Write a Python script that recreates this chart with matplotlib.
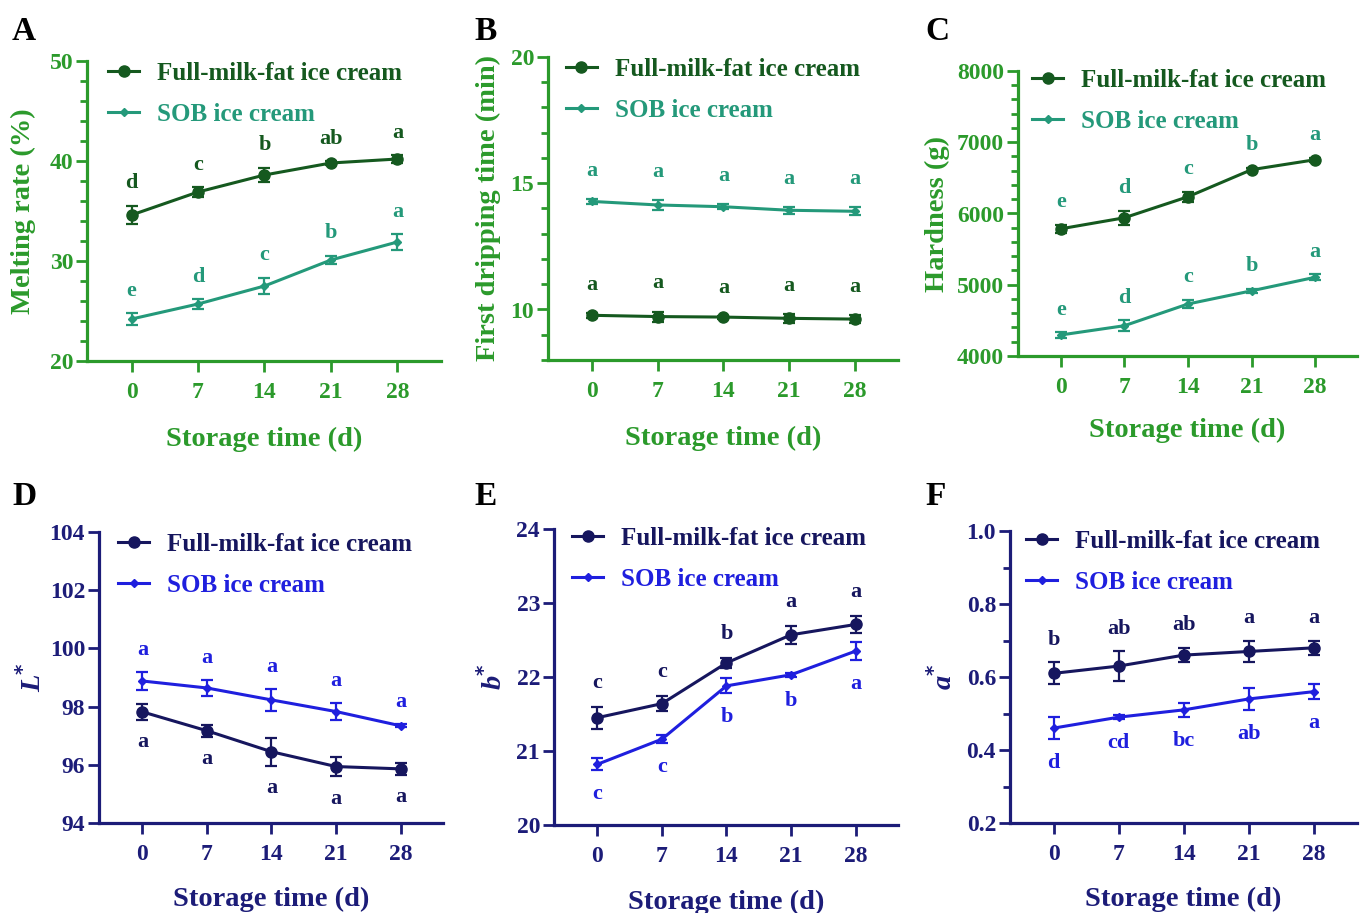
import matplotlib
matplotlib.use('Agg')

import matplotlib.pyplot as plt
from matplotlib.lines import Line2D
from matplotlib.ticker import MultipleLocator

plt.rcParams['font.family'] = ['Liberation Serif', 'DejaVu Serif']
plt.rcParams['font.weight'] = 'bold'
plt.rcParams['mathtext.fontset'] = 'custom'
plt.rcParams['mathtext.bfit'] = 'Liberation Serif:italic:bold'
plt.rcParams['mathtext.bf'] = 'Liberation Serif:bold'

days = [0, 7, 14, 21, 28]
full_label = 'Full-milk-fat ice cream'
sob_label = 'SOB ice cream'

# A: melting rate (%)
melt_full = [34.6, 36.9, 38.6, 39.8, 40.2]
melt_full_err = [0.9, 0.5, 0.7, 0.2, 0.4]
melt_sob = [24.2, 25.7, 27.5, 30.1, 31.9]
melt_sob_err = [0.6, 0.5, 0.8, 0.4, 0.8]
melt_full_let = ['d', 'c', 'b', 'ab', 'a']
melt_sob_let = ['e', 'd', 'c', 'b', 'a']

# B: first dripping time (min)
drip_full = [9.77, 9.72, 9.70, 9.65, 9.62]
drip_full_err = [0.10, 0.20, 0.06, 0.18, 0.15]
drip_sob = [14.28, 14.14, 14.07, 13.93, 13.89]
drip_sob_err = [0.10, 0.20, 0.10, 0.13, 0.16]
drip_full_let = ['a', 'a', 'a', 'a', 'a']
drip_sob_let = ['a', 'a', 'a', 'a', 'a']

# C: hardness (g)
hard_full = [5785, 5940, 6235, 6615, 6755]
hard_full_err = [60, 100, 70, 30, 30]
hard_sob = [4295, 4425, 4730, 4915, 5105]
hard_sob_err = [40, 80, 60, 30, 40]
hard_full_let = ['e', 'd', 'c', 'b', 'a']
hard_sob_let = ['e', 'd', 'c', 'b', 'a']

# D: L*
l_full = [97.82, 97.17, 96.45, 95.94, 95.86]
l_full_err = [0.27, 0.20, 0.48, 0.34, 0.20]
l_sob = [98.88, 98.64, 98.23, 97.83, 97.34]
l_sob_err = [0.30, 0.26, 0.37, 0.28, 0.05]
l_full_let = ['a', 'a', 'a', 'a', 'a']
l_sob_let = ['a', 'a', 'a', 'a', 'a']

# E: b*
b_full = [21.45, 21.64, 22.19, 22.57, 22.71]
b_full_err = [0.15, 0.10, 0.07, 0.12, 0.11]
b_sob = [20.82, 21.16, 21.88, 22.03, 22.35]
b_sob_err = [0.08, 0.05, 0.10, 0.03, 0.12]
b_full_let = ['c', 'c', 'b', 'a', 'a']
b_sob_let = ['c', 'c', 'b', 'b', 'a']

# F: a*
a_full = [0.61, 0.63, 0.66, 0.67, 0.68]
a_full_err = [0.03, 0.04, 0.02, 0.03, 0.02]
a_sob = [0.46, 0.49, 0.51, 0.54, 0.56]
a_sob_err = [0.03, 0.005, 0.02, 0.03, 0.02]
a_full_let = ['b', 'ab', 'ab', 'a', 'a']
a_sob_let = ['d', 'cd', 'bc', 'ab', 'a']

GREEN_AX = '#2b9a2b'
GREEN_FULL = '#15591f'
GREEN_SOB = '#24997a'
NAVY_AX = '#1c1c78'
NAVY_FULL = '#16165e'
BLUE_SOB = '#1f1fde'

W, H = 1365, 913
fig = plt.figure(figsize=(W / 100, H / 100), dpi=100)


def make_ax(left, right, top, bottom):
    return fig.add_axes([left / W, (H - bottom) / H, (right - left) / W, (bottom - top) / H])


def style(ax, axc, ylim, major, minor, ylabel, ylab_x):
    ax.set_xlim(-4.7, 32.6)
    ax.set_ylim(*ylim)
    ax.set_xticks(days)
    ax.yaxis.set_major_locator(MultipleLocator(major))
    if minor:
        ax.yaxis.set_minor_locator(MultipleLocator(minor))
    for s in ['top', 'right']:
        ax.spines[s].set_visible(False)
    for s in ['left', 'bottom']:
        ax.spines[s].set_color(axc)
        ax.spines[s].set_linewidth(2.3)
    ax.tick_params(which='major', length=8, width=2, colors=axc, labelsize=17, pad=2)
    ax.tick_params(which='minor', length=5, width=2, colors=axc)
    ax.tick_params(axis='x', pad=7)
    for t in ax.get_xticklabels() + ax.get_yticklabels():
        t.set_fontweight('bold')
    ax.set_xlabel('Storage time (d)', fontsize=20.5, fontweight='bold', color=axc)
    ax.xaxis.set_label_coords(0.5, -0.218)
    ax.set_ylabel(ylabel, fontsize=20.5, fontweight='bold', color=axc)
    ax.yaxis.set_label_coords(ylab_x, 0.5)


def series(ax, y, err, color, marker, ms):
    ax.errorbar(days, y, yerr=err, color=color, marker=marker, ms=ms, lw=2.2,
                elinewidth=1.6, capsize=4, capthick=1.6)


def letters(ax, y, err, labs, color, above=True, off=9):
    for x, v, e, t in zip(days, y, err, labs):
        if above:
            ax.annotate(t, (x, v + e), xytext=(0, off), textcoords='offset points',
                        ha='center', va='bottom', fontsize=16, fontweight='bold', color=color)
        else:
            ax.annotate(t, (x, v - e), xytext=(0, -off), textcoords='offset points',
                        ha='center', va='top', fontsize=16, fontweight='bold', color=color)


def legend(ax, c_full, c_sob, x, y):
    handles = [Line2D([], [], color=c_full, lw=2.2, marker='o', ms=8),
               Line2D([], [], color=c_sob, lw=2.2, marker='D', ms=4)]
    ax.legend(handles, [full_label, sob_label], loc='upper left', bbox_to_anchor=(x, y),
              frameon=False, borderaxespad=0, borderpad=0, handlelength=1.25,
              handletextpad=0.72, labelspacing=0.72, labelcolor='linecolor',
              prop={'weight': 'bold', 'size': 18})


def panel_letter(x, y, t):
    fig.text(x / W, 1 - y / H, t, fontsize=24, fontweight='bold', color='black', va='baseline')


# A
ax = make_ax(87, 441, 61, 361)
series(ax, melt_full, melt_full_err, GREEN_FULL, 'o', 8)
series(ax, melt_sob, melt_sob_err, GREEN_SOB, 'D', 4)
letters(ax, melt_full, melt_full_err, melt_full_let, GREEN_FULL)
letters(ax, melt_sob, melt_sob_err, melt_sob_let, GREEN_SOB)
style(ax, GREEN_AX, (20, 50), 10, 2, 'Melting rate (%)', -0.145)
legend(ax, GREEN_FULL, GREEN_SOB, 0.059, 0.997)

# B
ax = make_ax(548, 898, 57, 360)
series(ax, drip_full, drip_full_err, GREEN_FULL, 'o', 8)
series(ax, drip_sob, drip_sob_err, GREEN_SOB, 'D', 4)
letters(ax, drip_full, drip_full_err, drip_full_let, GREEN_FULL, off=13)
letters(ax, drip_sob, drip_sob_err, drip_sob_let, GREEN_SOB, off=13)
style(ax, GREEN_AX, (8, 20), 5, 1, 'First dripping time (min)', -0.134)
ax.set_yticks([10, 15, 20])
legend(ax, GREEN_FULL, GREEN_SOB, 0.051, 0.997)

# C
ax = make_ax(1018, 1357, 71, 356)
series(ax, hard_full, hard_full_err, GREEN_FULL, 'o', 8)
series(ax, hard_sob, hard_sob_err, GREEN_SOB, 'D', 4)
letters(ax, hard_full, hard_full_err, hard_full_let, GREEN_SOB)
letters(ax, hard_sob, hard_sob_err, hard_sob_let, GREEN_SOB)
style(ax, GREEN_AX, (4000, 8000), 1000, 200, 'Hardness (g)', -0.2)
legend(ax, GREEN_FULL, GREEN_SOB, 0.041, 1.008)

# D
ax = make_ax(99, 443, 532, 823)
series(ax, l_full, l_full_err, NAVY_FULL, 'o', 8)
series(ax, l_sob, l_sob_err, BLUE_SOB, 'D', 4)
letters(ax, l_full, l_full_err, l_full_let, NAVY_FULL, above=False, off=9)
letters(ax, l_sob, l_sob_err, l_sob_let, BLUE_SOB)
style(ax, NAVY_AX, (94, 104), 2, None, r'$\mathbfit{L}^{*}$', -0.15)
legend(ax, NAVY_FULL, BLUE_SOB, 0.055, 0.997)

# E
ax = make_ax(554, 898, 529, 825)
series(ax, b_full, b_full_err, NAVY_FULL, 'o', 8)
series(ax, b_sob, b_sob_err, BLUE_SOB, 'D', 4)
letters(ax, b_full, b_full_err, b_full_let, NAVY_FULL, off=10)
letters(ax, b_sob, b_sob_err, b_sob_let, BLUE_SOB, above=False, off=10)
style(ax, NAVY_AX, (20, 24), 1, None, r'$\mathbfit{b}^{*}$', -0.135)
legend(ax, NAVY_FULL, BLUE_SOB, 0.052, 1.007)

# F
ax = make_ax(1010, 1357, 531, 823)
series(ax, a_full, a_full_err, NAVY_FULL, 'o', 8)
series(ax, a_sob, a_sob_err, BLUE_SOB, 'D', 4)
letters(ax, a_full, a_full_err, a_full_let, NAVY_FULL)
letters(ax, a_sob, a_sob_err, a_sob_let, BLUE_SOB, above=False, off=10)
style(ax, NAVY_AX, (0.2, 1.0), 0.2, 0.1, r'$\mathbfit{a}^{*}$', -0.15)
legend(ax, NAVY_FULL, BLUE_SOB, 0.046, 1.004)

for t, x, y in [('A', 12, 40), ('B', 474, 40), ('C', 925, 40),
                ('D', 12, 505), ('E', 474, 505), ('F', 925, 505)]:
    panel_letter(x, y, t)

fig.savefig('out.png', dpi=100)
